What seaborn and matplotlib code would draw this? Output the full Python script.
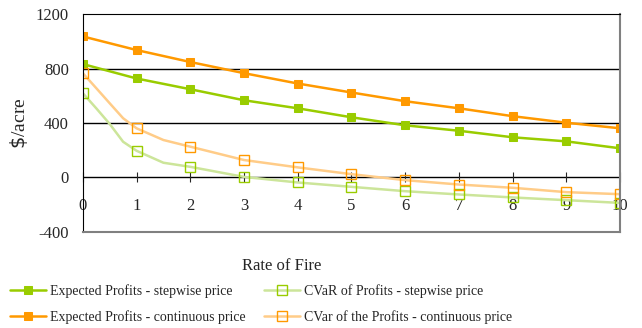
import matplotlib
matplotlib.use("Agg")
import matplotlib.pyplot as plt
import seaborn as sns

# rate of fire (integer points)
rate = [0, 1, 2, 3, 4, 5, 6, 7, 8, 9, 10]
exp_step = [833, 727, 648, 567, 508, 442, 383, 343, 295, 265, 214]
exp_cont = [1036, 936, 848, 766, 690, 624, 560, 508, 450, 402, 361]

# CVaR curves have extra points between 0 and 2
rate_fine = [0, 0.25, 0.5, 0.75, 1, 1.5, 2, 3, 4, 5, 6, 7, 8, 9, 10]
cvar_step = [619, 508, 393, 262, 196, 108, 78, 4, -37, -69, -101, -125, -147, -167, -187]
cvar_cont = [766, 656, 545, 435, 361, 275, 226, 128, 74, 24, -20, -52, -76, -108, -123]
mark_idx = [0, 4, 6, 7, 8, 9, 10, 11, 12, 13, 14]

sns.set_style("white")
plt.rcParams["font.family"] = ["Liberation Serif", "DejaVu Serif"]
plt.rcParams["axes.unicode_minus"] = False

green = "#99CC00"
orange = "#FF9900"
lgreen = "#CCE59A"
lorange = "#FFCC88"

fig = plt.figure(figsize=(6.42, 3.28), dpi=100)
ax = fig.add_axes([0.129, 0.293, 0.837, 0.664])

sns.lineplot(x=rate, y=exp_step, ax=ax, color=green, lw=1.8, marker="s", ms=6,
             mec=green, mfc=green, label="Expected Profits - stepwise price")
sns.lineplot(x=rate, y=exp_cont, ax=ax, color=orange, lw=1.8, marker="s", ms=6,
             mec=orange, mfc=orange, label="Expected Profits - continuous price")
sns.lineplot(x=rate_fine, y=cvar_step, ax=ax, color=lgreen, lw=1.8, marker="s", ms=7,
             mec=green, mfc="none", mew=1, markevery=mark_idx,
             label="CVaR of Profits - stepwise price")
sns.lineplot(x=rate_fine, y=cvar_cont, ax=ax, color=lorange, lw=1.8, marker="s", ms=7,
             mec=orange, mfc="none", mew=1, markevery=mark_idx,
             label="CVar of the Profits - continuous price")

ax.set_xlim(0, 10)
ax.set_ylim(-400, 1200)
ax.set_yticks([-400, 0, 400, 800, 1200])
ax.set_xticks(rate)
for v in [0, 400, 800]:
    ax.axhline(v, color="black", lw=1, zorder=0)

# frame: black left/top, grey right/bottom
ax.spines["left"].set_color("black")
ax.spines["top"].set_color("black")
ax.spines["right"].set_color("#808080")
ax.spines["right"].set_linewidth(1.5)
ax.spines["bottom"].set_color("#808080")
ax.spines["bottom"].set_linewidth(1.5)
ax.tick_params(axis="y", direction="out", length=9, pad=1, labelsize=12, color="black")
ax.tick_params(axis="x", length=0)
ax.set_xticklabels([])

# x ticks and labels sit on the zero line
sec = ax.secondary_xaxis(0.25)
sec.set_xticks(rate)
sec.spines["bottom"].set_visible(False)
sec.tick_params(direction="inout", length=7, labelsize=12, pad=11)

ax.set_ylabel("$\\$$/acre", fontsize=14, labelpad=4)
fig.text(0.438, 0.19, "Rate of Fire", ha="center", va="center", fontsize=12)

ax.legend(loc="upper left", bbox_to_anchor=(-0.136, -0.24), ncol=2, frameon=False,
          fontsize=10, handlelength=2.6, columnspacing=1.3, labelspacing=0.85,
          handletextpad=0.3, borderaxespad=0, borderpad=0)

fig.savefig("out.png", dpi=100)
